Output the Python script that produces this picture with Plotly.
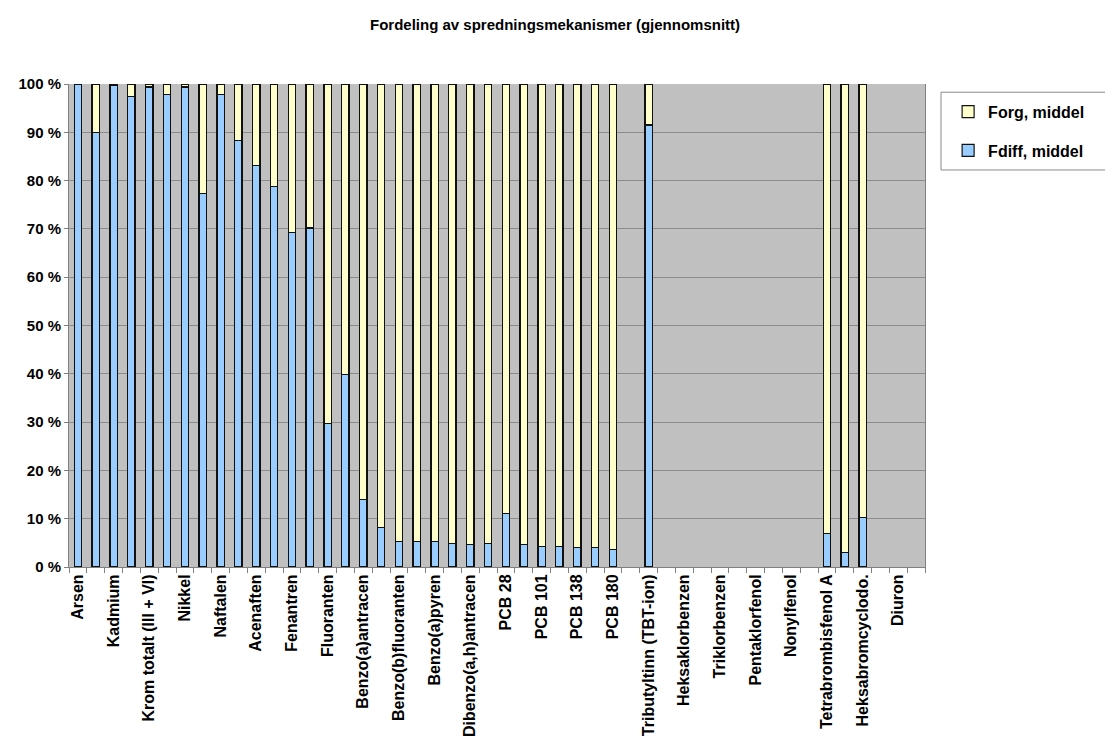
"""
Fordeling av spredningsmekanismer - stacked 100 % bars.
"""
import plotly.graph_objects as go

# 48 categories; only every other one gets a visible label in the chart
categories = [
    "Arsen", "Bly", "Kadmium", "Kobber", "Krom totalt (III + VI)", "Kvikksølv",
    "Nikkel", "Sink", "Naftalen", "Acenaftylen", "Acenaften", "Fluoren",
    "Fenantren", "Antracen", "Fluoranten", "Pyren", "Benzo(a)antracen", "Krysen",
    "Benzo(b)fluoranten", "Benzo(k)fluoranten", "Benzo(a)pyren", "Indeno(1,2,3-cd)pyren",
    "Dibenzo(a,h)antracen", "Benzo(ghi)perylen", "PCB 28", "PCB 52", "PCB 101", "PCB 118",
    "PCB 138", "PCB 153", "PCB 180", "Sum PCB7", "Tributyltinn (TBT-ion)", "Trifenyltinn",
    "Heksaklorbenzen", "Pentaklorbenzen", "Triklorbenzen", "Tetrakloreten",
    "Pentaklorfenol", "Trikloreten", "Nonylfenol", "Oktylfenol",
    "Tetrabrombisfenol A", "Pentabromdifenyleter", "Heksabromcyclodo.", "Klorparafiner",
    "Diuron", "Irgarol",
]

fdiff = [
    100.0, 90.0, 99.8, 97.4, 99.4, 97.9, 99.4, 77.3, 97.8, 88.3, 83.2, 78.8,
    69.2, 70.2, 29.7, 39.9, 14.0, 8.1, 5.2, 5.2, 5.2, 4.8, 4.6, 4.8,
    11.0, 4.7, 4.3, 4.3, 4.1, 4.1, 3.7, None, 91.5, None,
    None, None, None, None, None, None, None, None,
    6.9, 3.0, 10.2, None, None, None,
]
forg = [None if v is None else round(100 - v, 1) for v in fdiff]

tick_text = [f"<b>{c}</b>" if i % 2 == 0 else "" for i, c in enumerate(categories)]

font_family = "Liberation Sans, Arial, sans-serif"
outline = dict(color="#111111", width=1.2)

fig = go.Figure()

fig.add_trace(go.Bar(
    x=categories, y=fdiff, name="<b>Fdiff, middel</b>",
    marker=dict(color="#99CCFF", line=outline),
    legendgroup="a", legendrank=2,
))
fig.add_trace(go.Bar(
    x=categories, y=forg, name="<b>Forg, middel</b>",
    marker=dict(color="#FFFFCC", line=outline),
    legendgroup="b", legendrank=1,
))

# legend frame (runs off the right edge like in the original)
fig.add_shape(
    type="rect", xref="paper", yref="paper",
    x0=1.0187, x1=1.25, y0=0.822, y1=0.983,
    line=dict(color="#8a8a8a", width=1), fillcolor="white", layer="below",
)

fig.update_layout(
    barmode="stack",
    bargap=0.59,
    width=1113,
    height=742,
    margin=dict(l=61, r=196, t=76, b=183),
    paper_bgcolor="white",
    plot_bgcolor="#C0C0C0",
    font=dict(family=font_family, size=14, color="black"),
    title=dict(
        text="<b>Fordeling av spredningsmekanismer (gjennomsnitt)</b>",
        x=0.4915, xanchor="center", y=0.977, yanchor="middle",
        font=dict(size=15, family=font_family),
    ),
    legend=dict(
        x=1.027, xanchor="left", y=0.978, yanchor="top",
        traceorder="grouped", tracegroupgap=15,
        bgcolor="rgba(0,0,0,0)", borderwidth=0,
        font=dict(size=16, family=font_family),
        itemwidth=30,
    ),
    xaxis=dict(
        type="category",
        tickvals=categories, ticktext=tick_text,
        tickangle=-90, tickson="boundaries",
        ticks="outside", ticklen=5, tickcolor="#808080",
        showgrid=False, showline=True, linecolor="#808080", linewidth=1,
        tickfont=dict(size=16, family=font_family),
        range=[-0.5, len(categories) - 0.5],
        automargin=False,
    ),
    yaxis=dict(
        range=[0, 100], dtick=10, ticksuffix=" %",
        tickprefix="<b>",
        ticks="outside", ticklen=4, tickcolor="#808080",
        showgrid=True, gridcolor="#8C8C8C", gridwidth=1,
        showline=True, linecolor="#808080", linewidth=1, mirror=True,
        tickfont=dict(size=15, family=font_family),
        zeroline=False, automargin=False,
    ),
)

fig.write_html("out.html")
